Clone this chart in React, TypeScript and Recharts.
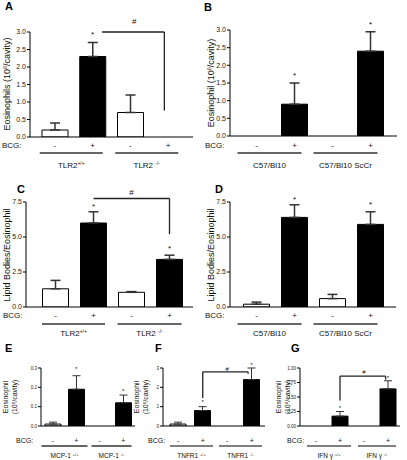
import React from 'react';
import { BarChart, Bar, XAxis, YAxis, ErrorBar, Cell, ReferenceLine, ReferenceDot } from 'recharts';

const FONT = '"Liberation Sans", Arial, Helvetica, sans-serif';

// shared categories: BCG -, +, -, + for two strains
const categories = ['c1', 'c2', 'c3', 'c4'];
const bcgSigns = ['-', '+', '-', '+'];
const barFills = ['#ffffff', '#000000', '#ffffff', '#000000'];

// A: eosinophils, TLR2
const aMeans = [0.2, 2.3, 0.7, 0];
const aErrs = [0.2, 0.4, 0.5, 0];
const aTicks = [0, 0.5, 1, 1.5, 2, 2.5, 3];
const aGroups = [['TLR2', '+/+'], ['TLR2 ', '-/-']];

// B: eosinophils, C57/Bl10
const bMeans = [0, 0.9, 0, 2.4];
const bErrs = [0, 0.6, 0, 0.55];
const bTicks = [0, 0.5, 1, 1.5, 2, 2.5, 3];
const bGroups = [['C57/Bl10', ''], ['C57/Bl10 ScCr', '']];

// C: lipid bodies, TLR2
const cMeans = [1.3, 6.0, 1.05, 3.4];
const cErrs = [0.6, 0.8, 0.05, 0.3];
const cTicks = [0, 2.5, 5, 7.5];

// D: lipid bodies, C57/Bl10
const dMeans = [0.2, 6.4, 0.6, 5.9];
const dErrs = [0.15, 0.9, 0.3, 0.9];
const dTicks = [0, 2.5, 5, 7.5];

// E-G: small panels
const eMeans = [0.01, 0.19, 0, 0.12];
const eErrs = [0.01, 0.07, 0, 0.04];
const eTicks = [0, 0.1, 0.2, 0.3];
const eGroups = [['MCP-1 ', '+/+'], ['MCP-1 ', '-/-']];

const fMeans = [0.1, 0.8, 0, 2.4];
const fErrs = [0.1, 0.2, 0, 0.6];
const fTicks = [0, 1, 2, 3];
const fGroups = [['TNFR1 ', '+/+'], ['TNFR1 ', '-/-']];

const gMeans = [0, 0.17, 0, 0.64];
const gErrs = [0, 0.08, 0, 0.14];
const gTicks = [0, 0.25, 0.5, 0.75, 1];
const gGroups = [['IFN γ ', '+/+'], ['IFN γ ', '-/-']];

type Pt = [number, number];
type LabelLine = { x: number; pre: string; sup?: string; post?: string };

interface PanelCfg {
  letter: string;
  letterPos: Pt;
  letterSize: number;
  box: [number, number, number, number];
  plot: [number, number, number, number];
  pad: [number, number];
  barSize: number;
  means: number[];
  errs: number[];
  domain: [number, number];
  ticks: number[];
  digits: number;
  tickFont: number;
  yLabel: LabelLine[];
  yLabelY: number;
  yLabelFont: number;
  groups: string[][];
  rows: { bcgX: number; signY: number; lineY: number; labelY: number; half: number[]; shift: number; font: number; groupFont: number; lineColor: string; lineWidth: number };
  stars: Pt[];
  starFont: number;
  brackets: Pt[][];
  hash?: Pt;
  capWidth: number;
  errWidth: number;
}

const Sup = ({ pre, sup, post, fs }: { pre: string; sup?: string; post?: string; fs: number }) => (
  <>
    {pre}
    {sup ? (
      <tspan fontSize={fs * 0.62} dy={-fs * 0.38}>
        {sup}
      </tspan>
    ) : null}
    {post ? (
      <tspan fontSize={fs} dy={fs * 0.38}>
        {post}
      </tspan>
    ) : null}
  </>
);

const Panel = ({ cfg }: { cfg: PanelCfg }) => {
  const [left, top, w, h] = cfg.box;
  const [x0, x1, y0, y1] = cfg.plot;
  const xAxisH = 20;
  const margin = { top: y0 - top, left: 0, right: left + w - x1, bottom: top + h - y1 - xAxisH };
  const data = categories.map((c, i) => ({ cat: c, pos: i + 0.5, value: cfg.means[i], err: [0, cfg.errs[i]] }));
  const band = (x1 - x0 - cfg.pad[0] - cfg.pad[1]) / 4;
  const r = cfg.rows;

  const renderTick = (props: any) => {
    const { x, payload } = props;
    const i = categories.indexOf(payload.value);
    const gi = (i - 1) / 2;
    const gx = x - band / 2 + r.shift;
    return (
      <g fontFamily={FONT}>
        <text x={x} y={r.signY - top} textAnchor="middle" fontSize={r.font} fill="#111">
          {bcgSigns[i]}
        </text>
        {i === 0 && (
          <text x={r.bcgX - left} y={r.signY - top} fontSize={r.font} fill="#111">
            BCG:
          </text>
        )}
        {i % 2 === 1 && (
          <g>
            <line x1={gx - r.half[gi]} x2={gx + r.half[gi]} y1={r.lineY - top} y2={r.lineY - top} stroke={r.lineColor} strokeWidth={r.lineWidth} />
            <text x={gx} y={r.labelY - top} textAnchor="middle" fontSize={r.groupFont} fill="#111">
              <Sup pre={cfg.groups[gi][0]} sup={cfg.groups[gi][1]} fs={r.groupFont} />
            </text>
          </g>
        )}
      </g>
    );
  };

  const yLab = (
    <g>
      {cfg.yLabel.map((ln, k) => (
        <text
          key={k}
          transform={`translate(${ln.x - left},${cfg.yLabelY - top}) rotate(-90)`}
          textAnchor="middle"
          dy={cfg.yLabelFont * 0.35}
          fontSize={cfg.yLabelFont}
          fontFamily={FONT}
          fill="#111"
        >
          <Sup pre={ln.pre} sup={ln.sup} post={ln.post} fs={cfg.yLabelFont} />
        </text>
      ))}
    </g>
  );

  return (
    <div style={{ position: 'absolute', left, top, width: w, height: h }}>
      <div
        style={{
          position: 'absolute',
          left: cfg.letterPos[0] - left,
          top: cfg.letterPos[1] - top,
          fontFamily: FONT,
          fontWeight: 'bold',
          fontSize: cfg.letterSize,
          lineHeight: `${cfg.letterSize}px`,
        }}
      >
        {cfg.letter}
      </div>
      <BarChart width={w} height={h} data={data} margin={margin} style={{ position: 'absolute', left: 0, top: 0 }}>
        <XAxis
          xAxisId="c"
          dataKey="cat"
          height={xAxisH}
          padding={{ left: cfg.pad[0], right: cfg.pad[1] }}
          axisLine={{ stroke: '#000', strokeWidth: 1 }}
          tickLine={false}
          tick={renderTick}
          interval={0}
        />
        <XAxis xAxisId="n" dataKey="pos" type="number" domain={[0, 4]} allowDataOverflow hide padding={{ left: cfg.pad[0], right: cfg.pad[1] }} />
        <YAxis
          width={x0 - left}
          domain={cfg.domain}
          ticks={cfg.ticks}
          allowDataOverflow
          interval={0}
          tickFormatter={(v: number) => v.toFixed(cfg.digits)}
          tick={{ fontSize: cfg.tickFont, fill: '#222', fontFamily: FONT }}
          tickSize={3}
          tickMargin={1}
          axisLine={{ stroke: '#000', strokeWidth: 1 }}
          tickLine={{ stroke: '#000' }}
          label={yLab}
        />
        <Bar xAxisId="c" dataKey="value" barSize={cfg.barSize} isAnimationActive={false} stroke="#000" strokeWidth={1}>
          {data.map((d, i) => (
            <Cell key={d.cat} fill={barFills[i]} />
          ))}
          <ErrorBar dataKey="err" direction="y" width={cfg.capWidth} stroke="#333" strokeWidth={cfg.errWidth} isAnimationActive={false} />
        </Bar>
        {cfg.brackets.map((seg, k) => (
          <ReferenceLine
            key={`b${k}`}
            xAxisId="n"
            segment={[
              { x: seg[0][0], y: seg[0][1] },
              { x: seg[1][0], y: seg[1][1] },
            ]}
            stroke="#222"
            strokeWidth={1.3}
            ifOverflow="visible"
          />
        ))}
        {cfg.stars.map((s, k) => (
          <ReferenceDot
            key={`s${k}`}
            xAxisId="n"
            x={s[0]}
            y={s[1]}
            r={0}
            ifOverflow="visible"
            shape={(p: any) => (
              <text x={p.cx} y={p.cy + cfg.starFont * 0.57} textAnchor="middle" fontSize={cfg.starFont} fontFamily={FONT} fill="#111">
                *
              </text>
            )}
          />
        ))}
        {cfg.hash && (
          <ReferenceDot
            xAxisId="n"
            x={cfg.hash[0]}
            y={cfg.hash[1]}
            r={0}
            ifOverflow="visible"
            shape={(p: any) => (
              <text x={p.cx} y={p.cy + cfg.starFont * 0.36} textAnchor="middle" fontSize={cfg.starFont} fontFamily={FONT} fill="#111">
                #
              </text>
            )}
          />
        )}
      </BarChart>
    </div>
  );
};

const eosLabel = (x: number): LabelLine[] => [{ x, pre: 'Eosinophils (10', sup: '6', post: '/cavity)' }];
const eosLabel2 = (x: number): LabelLine[] => [
  { x, pre: 'Eosinophil (10', sup: '6', post: '/cavity)' },
];
const twoLine = (x: number): LabelLine[] => [
  { x, pre: 'Eosinophil' },
  { x: x + 9, pre: '(10', sup: '6', post: '/cavity)' },
];

const topRows = (bcgX: number, shift: number, half: number[]) => ({
  bcgX, signY: 148, lineY: 153, labelY: 168, half, shift, font: 8, groupFont: 8, lineColor: '#333', lineWidth: 1.5,
});
const midRows = (bcgX: number, shift: number, half: number[]) => ({
  bcgX, signY: 318, lineY: 324, labelY: 336, half, shift, font: 8, groupFont: 8, lineColor: '#333', lineWidth: 1.5,
});
const lowRows = (bcgX: number, shift: number, half: number[], color: string, lw: number) => ({
  bcgX, signY: 443, lineY: 446, labelY: 458, half, shift, font: 7, groupFont: 6.5, lineColor: color, lineWidth: lw,
});

const panels: PanelCfg[] = [
  {
    letter: 'A', letterPos: [5, 1], letterSize: 11,
    box: [0, 0, 204, 175], plot: [30, 193, 32, 137], pad: [6, 6], barSize: 26,
    means: aMeans, errs: aErrs, domain: [0, 3], ticks: aTicks, digits: 1, tickFont: 7,
    yLabel: eosLabel(7), yLabelY: 84, yLabelFont: 9,
    groups: aGroups, rows: topRows(2, -2.5, [31.5, 31.5]),
    stars: [[1.5, 3.0]], starFont: 8,
    brackets: [[[1.75, 3.0], [3.4, 3.0]], [[3.4, 3.0], [3.4, 0.76]]], hash: [2.6, 3.31],
    capWidth: 5, errWidth: 1.5,
  },
  {
    letter: 'B', letterPos: [204, 2], letterSize: 11,
    box: [204, 0, 203, 175], plot: [230, 397, 30, 136], pad: [7.5, 7.5], barSize: 26,
    means: bMeans, errs: bErrs, domain: [0, 3], ticks: bTicks, digits: 1, tickFont: 7,
    yLabel: eosLabel2(211), yLabelY: 83, yLabelFont: 9,
    groups: bGroups, rows: topRows(205, -6, [32, 32]),
    stars: [[1.5, 1.78], [3.5, 3.2]], starFont: 8,
    brackets: [], capWidth: 5, errWidth: 1.5,
  },
  {
    letter: 'C', letterPos: [17, 184], letterSize: 11,
    box: [0, 175, 204, 165], plot: [26, 193, 202, 307], pad: [10.5, 4.5], barSize: 26,
    means: cMeans, errs: cErrs, domain: [0, 7.5], ticks: cTicks, digits: 1, tickFont: 7,
    yLabel: [{ x: 7, pre: 'Lipid Bodies/Eosinophil' }], yLabelY: 255, yLabelFont: 9,
    groups: aGroups, rows: midRows(3, -1, [31.5, 32]),
    stars: [[1.5, 7.35], [3.5, 4.3]], starFont: 8,
    brackets: [[[1.5, 7.75], [3.5, 7.75]], [[3.5, 7.75], [3.5, 5.2]]], hash: [2.5, 8.2],
    capWidth: 5, errWidth: 1.5,
  },
  {
    letter: 'D', letterPos: [215, 184], letterSize: 11,
    box: [204, 175, 203, 165], plot: [230, 396, 202, 307], pad: [7.5, 6.5], barSize: 26,
    means: dMeans, errs: dErrs, domain: [0, 7.5], ticks: dTicks, digits: 1, tickFont: 7,
    yLabel: [{ x: 211, pre: 'Lipid Bodies/Eosinophil' }], yLabelY: 255, yLabelFont: 9,
    groups: bGroups, rows: midRows(205, -6, [32, 32]),
    stars: [[1.5, 7.8], [3.5, 7.45]], starFont: 8,
    brackets: [], capWidth: 5, errWidth: 1.5,
  },
  {
    letter: 'E', letterPos: [5, 343], letterSize: 11,
    box: [0, 340, 135, 120], plot: [41, 135, 368, 426], pad: [0, 0], barSize: 16,
    means: eMeans, errs: eErrs, domain: [0, 0.3], ticks: eTicks, digits: 1, tickFont: 4.5,
    yLabel: twoLine(6), yLabelY: 397, yLabelFont: 7,
    groups: eGroups, rows: lowRows(16, 0, [23, 20], '#666', 2),
    stars: [[1.5, 0.3], [3.5, 0.19]], starFont: 6,
    brackets: [], capWidth: 4, errWidth: 1,
  },
  {
    letter: 'F', letterPos: [155, 343], letterSize: 11,
    box: [126, 340, 144, 120], plot: [163, 265, 368, 426], pad: [3, 1], barSize: 16,
    means: fMeans, errs: fErrs, domain: [0, 3], ticks: fTicks, digits: 0, tickFont: 4.5,
    yLabel: twoLine(137), yLabelY: 397, yLabelFont: 7,
    groups: fGroups, rows: lowRows(148, 1, [21.5, 21.5], '#000', 1),
    stars: [[1.5, 1.3], [3.5, 3.25]], starFont: 6,
    brackets: [[[1.5, 1.45], [1.5, 2.8]], [[1.5, 2.8], [3.35, 2.8]], [[3.35, 2.8], [3.35, 2.7]]], hash: [2.5, 2.95],
    capWidth: 4, errWidth: 1,
  },
  {
    letter: 'G', letterPos: [291, 343], letterSize: 11,
    box: [268, 340, 139, 120], plot: [300, 400, 368, 426], pad: [4, 0], barSize: 16,
    means: gMeans, errs: gErrs, domain: [0, 1], ticks: gTicks, digits: 2, tickFont: 4.5,
    yLabel: twoLine(279), yLabelY: 397, yLabelFont: 7,
    groups: gGroups, rows: lowRows(287, 1, [22, 19], '#000', 1),
    stars: [[1.5, 0.33], [3.5, 0.86]], starFont: 6,
    brackets: [[[1.5, 0.44], [1.5, 0.86]], [[1.5, 0.86], [3.4, 0.86]], [[3.4, 0.86], [3.4, 0.8]]], hash: [2.5, 0.93],
    capWidth: 4, errWidth: 1,
  },
];

export default function App() {
  return (
    <div style={{ position: 'absolute', left: 0, top: 0, width: 407, height: 460, background: '#fff', overflow: 'hidden' }}>
      {panels.map((p) => (
        <Panel key={p.letter} cfg={p} />
      ))}
    </div>
  );
}
